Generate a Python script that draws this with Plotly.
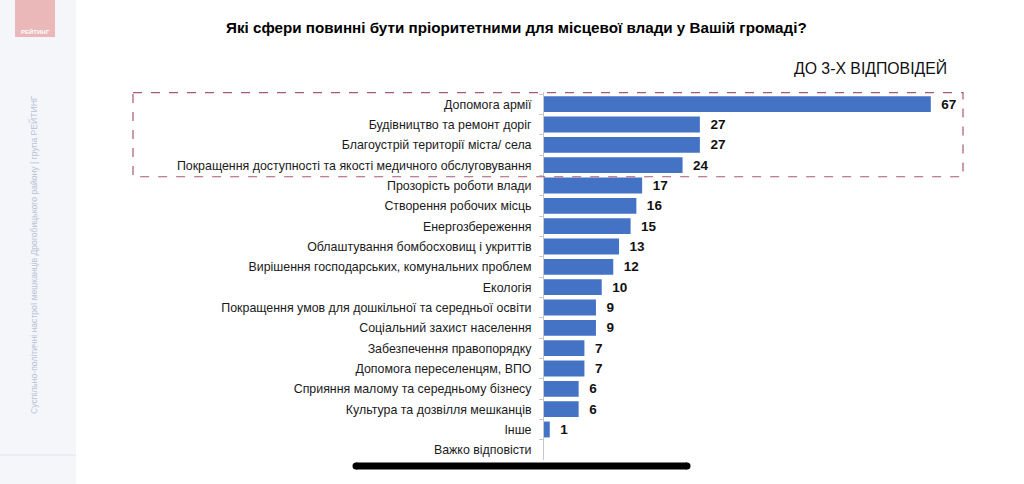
import plotly.graph_objects as go

categories = [
    "Допомога армії",
    "Будівництво та ремонт доріг",
    "Благоустрій території міста/ села",
    "Покращення доступності та якості медичного обслуговування",
    "Прозорість роботи влади",
    "Створення робочих місць",
    "Енергозбереження",
    "Облаштування бомбосховищ і укриттів",
    "Вирішення господарських, комунальних проблем",
    "Екологія",
    "Покращення умов для дошкільної та середньої освіти",
    "Соціальний захист населення",
    "Забезпечення правопорядку",
    "Допомога переселенцям, ВПО",
    "Сприяння малому та середньому бізнесу",
    "Культура та дозвілля мешканців",
    "Інше",
    "Важко відповісти",
]
values = [67, 27, 27, 24, 17, 16, 15, 13, 12, 10, 9, 9, 7, 7, 6, 6, 1, None]
value_labels = ["" if v is None else "\u00a0\u00a0" + str(v) for v in values]

title_text = "Які сфери повинні бути пріоритетними для місцевої влади у Вашій громаді?"
subtitle_text = "ДО 3-Х ВІДПОВІДЕЙ"
sidebar_text = "Суспільно-політичні настрої мешканців Дрогобицького району | група РЕЙТИНГ"
logo_text = "РЕЙТИНГ"

W, H = 1024, 484
ML, MR, MT, MB = 544, 47, 92, 24
PW, PH = W - ML - MR, H - MT - MB


def px_x(px):
    return (px - ML) / PW


def px_y(py):
    return (H - MB - py) / PH


SANS = "Liberation Sans, Arial, sans-serif"

fig = go.Figure(
    go.Bar(
        x=values,
        y=categories,
        orientation="h",
        marker=dict(color="#4472c4", line=dict(width=0)),
        text=value_labels,
        textposition="outside",
        textfont=dict(family=SANS, size=13.5, color="#111111", weight="bold"),
        cliponaxis=False,
        width=0.78,
        hoverinfo="skip",
    )
)

shapes = [
    # sidebar
    dict(type="rect", xref="paper", yref="paper", x0=px_x(0), x1=px_x(76), y0=px_y(H), y1=px_y(0),
         fillcolor="#f4f6fa", line=dict(width=0), layer="below"),
    dict(type="line", xref="paper", yref="paper", x0=px_x(0), x1=px_x(76), y0=px_y(455), y1=px_y(455),
         line=dict(color="#dfe3ea", width=1)),
    # logo
    dict(type="rect", xref="paper", yref="paper", x0=px_x(15), x1=px_x(55), y0=px_y(37), y1=px_y(0),
         fillcolor="#eab8b8", line=dict(width=0)),
    # dashed highlight box
    dict(type="rect", xref="paper", yref="y", x0=px_x(133), x1=px_x(963), y0=-0.57, y1=3.57,
         fillcolor="rgba(0,0,0,0)", line=dict(color="#a8577a", width=1.2, dash="dash")),
    # bottom home indicator
    dict(type="line", xref="paper", yref="paper", x0=px_x(356), x1=px_x(687), y0=px_y(466), y1=px_y(466),
         line=dict(color="#000000", width=7)),
    dict(type="circle", xref="paper", yref="paper", x0=px_x(352.5), x1=px_x(359.5), y0=px_y(469.5),
         y1=px_y(462.5), fillcolor="#000000", line=dict(width=0)),
    dict(type="circle", xref="paper", yref="paper", x0=px_x(683.5), x1=px_x(690.5), y0=px_y(469.5),
         y1=px_y(462.5), fillcolor="#000000", line=dict(width=0)),
]

annotations = [
    dict(text=title_text, xref="paper", yref="paper", x=px_x(516), y=px_y(27), xanchor="center",
         yanchor="middle", showarrow=False, font=dict(family=SANS, size=15.2, color="#000000", weight="bold")),
    dict(text=subtitle_text, xref="paper", yref="paper", x=px_x(949), y=px_y(68), xanchor="right",
         yanchor="middle", showarrow=False, font=dict(family=SANS, size=15.8, color="#111111")),
    dict(text=sidebar_text, xref="paper", yref="paper", x=px_x(33), y=px_y(255), xanchor="center",
         yanchor="middle", textangle=-90, showarrow=False, font=dict(family=SANS, size=8.6, color="#b9c3d6")),
    dict(text=logo_text, xref="paper", yref="paper", x=px_x(35), y=px_y(31), xanchor="center",
         yanchor="middle", showarrow=False, font=dict(family=SANS, size=6, color="#ffffff", weight="bold")),
]

fig.update_layout(
    width=W,
    height=H,
    margin=dict(l=ML, r=MR, t=MT, b=MB, pad=0),
    paper_bgcolor="#ffffff",
    plot_bgcolor="#ffffff",
    showlegend=False,
    bargap=0.2,
    shapes=shapes,
    annotations=annotations,
    xaxis=dict(range=[0, 75], visible=False, fixedrange=True),
    yaxis=dict(
        autorange="reversed",
        showline=True,
        linecolor="#c8c8c8",
        linewidth=1,
        ticks="outside",
        tickcolor="#c8c8c8",
        ticklen=4,
        tickson="boundaries",
        showgrid=False,
        ticklabelstandoff=9,
        tickfont=dict(family=SANS, size=12.4, color="#1a1a1a"),
        fixedrange=True,
    ),
)

fig.write_html(
    "out.html",
    config={"displayModeBar": False},
    post_script="document.body.style.margin='0';document.body.style.overflow='hidden';",
)
